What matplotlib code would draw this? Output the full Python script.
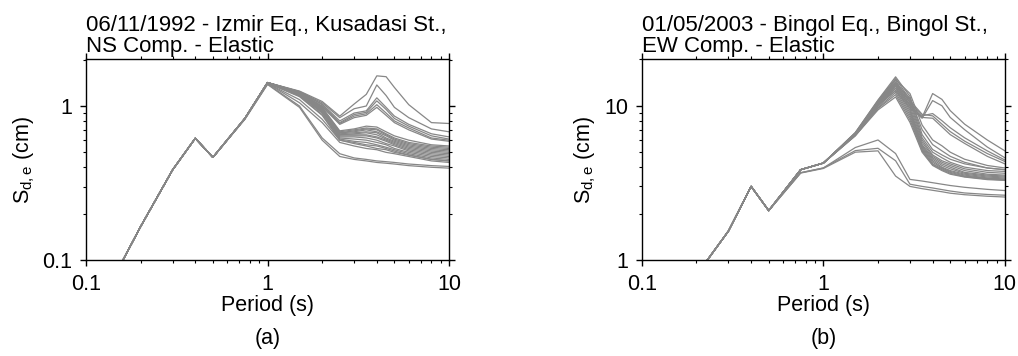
import numpy as np
import matplotlib
matplotlib.use("Agg")
import matplotlib.pyplot as plt
from matplotlib.ticker import LogLocator, NullFormatter, FixedLocator, FixedFormatter

plt.rcParams["font.family"] = ["Liberation Sans", "DejaVu Sans"]
plt.rcParams["mathtext.fontset"] = "custom"
plt.rcParams["mathtext.rm"] = "Liberation Sans"
plt.rcParams["mathtext.it"] = "Liberation Sans"

# ── Periods (s) ──
periods_common = [0.1, 0.2, 0.3, 0.4, 0.5]
periods_tail = [0.75, 1.0, 1.5, 2.0, 2.5, 3.0, 3.5, 4.0, 4.5, 5.0, 6.0, 8.0, 10.0]

# ── (a) Izmir, Kusadasi NS: shared short-period part, then one tail per record ──
izmir_common = [0.035, 0.165, 0.385, 0.617, 0.464]
izmir_tails = [
    [0.83, 1.42, 1.25, 1.07, 0.86, 1.03, 1.19, 1.57, 1.55, 1.32, 1.02, 0.78, 0.77],
    [0.83, 1.42, 1.24, 1.05, 0.84, 0.96, 1.00, 1.37, 1.17, 0.98, 0.84, 0.71, 0.68],
    [0.83, 1.42, 1.24, 1.03, 0.80, 0.90, 0.93, 1.13, 0.98, 0.86, 0.76, 0.66, 0.63],
    [0.83, 1.42, 1.23, 1.02, 0.78, 0.88, 0.91, 1.08, 0.95, 0.83, 0.74, 0.64, 0.61],
    [0.83, 1.42, 1.22, 1.00, 0.77, 0.86, 0.89, 1.02, 0.90, 0.80, 0.72, 0.62, 0.60],
    [0.83, 1.42, 1.22, 0.99, 0.76, 0.84, 0.87, 0.98, 0.87, 0.78, 0.70, 0.61, 0.59],
    [0.83, 1.42, 1.23, 0.98, 0.69, 0.71, 0.74, 0.73, 0.68, 0.64, 0.60, 0.56, 0.55],
    [0.83, 1.42, 1.22, 0.97, 0.68, 0.70, 0.72, 0.71, 0.66, 0.62, 0.58, 0.55, 0.54],
    [0.83, 1.42, 1.21, 0.96, 0.67, 0.69, 0.71, 0.70, 0.65, 0.61, 0.57, 0.54, 0.53],
    [0.83, 1.42, 1.21, 0.95, 0.67, 0.68, 0.70, 0.68, 0.64, 0.60, 0.56, 0.53, 0.52],
    [0.83, 1.42, 1.20, 0.94, 0.66, 0.67, 0.68, 0.67, 0.62, 0.59, 0.55, 0.52, 0.51],
    [0.83, 1.42, 1.20, 0.93, 0.65, 0.66, 0.67, 0.65, 0.61, 0.58, 0.54, 0.51, 0.50],
    [0.83, 1.42, 1.19, 0.92, 0.65, 0.65, 0.65, 0.63, 0.60, 0.57, 0.53, 0.50, 0.49],
    [0.83, 1.42, 1.19, 0.92, 0.64, 0.64, 0.64, 0.62, 0.59, 0.56, 0.52, 0.49, 0.48],
    [0.83, 1.41, 1.18, 0.91, 0.63, 0.63, 0.62, 0.60, 0.57, 0.55, 0.51, 0.48, 0.47],
    [0.83, 1.41, 1.17, 0.90, 0.62, 0.61, 0.60, 0.58, 0.56, 0.53, 0.50, 0.47, 0.46],
    [0.83, 1.41, 1.16, 0.88, 0.61, 0.59, 0.58, 0.56, 0.54, 0.52, 0.49, 0.46, 0.45],
    [0.83, 1.41, 1.15, 0.87, 0.60, 0.58, 0.56, 0.55, 0.53, 0.51, 0.48, 0.45, 0.44],
    [0.83, 1.40, 1.10, 0.82, 0.60, 0.57, 0.55, 0.53, 0.52, 0.50, 0.48, 0.45, 0.44],
    [0.83, 1.40, 1.05, 0.78, 0.58, 0.55, 0.53, 0.52, 0.50, 0.49, 0.47, 0.44, 0.43],
    [0.82, 1.39, 1.00, 0.62, 0.49, 0.46, 0.45, 0.44, 0.435, 0.43, 0.42, 0.41, 0.405],
    [0.82, 1.38, 0.98, 0.60, 0.47, 0.45, 0.44, 0.43, 0.425, 0.42, 0.41, 0.40, 0.395],
]

# ── (b) Bingol, Bingol EW ──
bingol_common = [0.30, 0.80, 1.54, 3.0, 2.09]
bingol_tails = [
    [3.85, 4.25, 6.6, 10.3, 13.0, 10.0, 8.4, 12.0, 11.0, 9.3, 7.6, 6.0, 5.1],
    [3.85, 4.25, 6.6, 10.2, 12.5, 9.7, 8.3, 10.8, 10.0, 8.4, 7.0, 5.4, 4.6],
    [3.85, 4.25, 6.6, 10.4, 13.8, 10.5, 8.6, 8.9, 8.0, 7.2, 6.2, 5.1, 4.45],
    [3.85, 4.25, 6.6, 10.5, 14.2, 10.8, 8.8, 8.6, 7.6, 6.8, 5.9, 4.9, 4.35],
    [3.85, 4.25, 6.6, 10.3, 13.5, 10.2, 8.4, 8.3, 7.3, 6.5, 5.7, 4.7, 4.2],
    [3.85, 4.25, 6.7, 10.9, 15.4, 11.5, 6.5, 5.2, 4.8, 4.5, 4.2, 3.95, 3.85],
    [3.85, 4.25, 6.7, 10.8, 15.0, 11.0, 6.2, 5.0, 4.6, 4.3, 4.0, 3.8, 3.75],
    [3.85, 4.25, 6.6, 10.6, 14.6, 10.5, 6.0, 4.8, 4.4, 4.2, 3.9, 3.7, 3.65],
    [3.85, 4.25, 6.6, 10.5, 14.2, 10.0, 5.8, 4.7, 4.3, 4.1, 3.8, 3.6, 3.55],
    [3.85, 4.25, 6.6, 10.3, 13.8, 9.6, 5.6, 4.6, 4.2, 4.0, 3.7, 3.55, 3.5],
    [3.85, 4.25, 6.5, 10.2, 13.4, 9.3, 5.5, 4.5, 4.1, 3.9, 3.65, 3.5, 3.45],
    [3.85, 4.25, 6.5, 10.0, 13.0, 9.0, 5.4, 4.4, 4.0, 3.8, 3.6, 3.45, 3.4],
    [3.85, 4.25, 6.5, 9.9, 12.6, 8.7, 5.3, 4.3, 3.95, 3.75, 3.55, 3.4, 3.35],
    [3.85, 4.25, 6.4, 9.7, 12.2, 8.4, 5.2, 4.2, 3.9, 3.7, 3.5, 3.38, 3.33],
    [3.85, 4.25, 6.4, 9.6, 11.8, 8.1, 5.1, 4.15, 3.85, 3.65, 3.47, 3.35, 3.3],
    [3.85, 4.25, 6.4, 9.4, 11.4, 7.8, 5.0, 4.1, 3.8, 3.6, 3.45, 3.32, 3.28],
    [3.85, 4.25, 6.6, 10.6, 14.8, 12.0, 7.5, 6.0, 5.5, 5.0, 4.5, 4.1, 3.95],
    [3.85, 4.25, 6.5, 10.4, 14.0, 11.2, 7.0, 5.6, 5.1, 4.7, 4.3, 3.95, 3.85],
    [3.68, 3.95, 5.36, 6.0, 4.9, 3.33, 3.25, 3.17, 3.1, 3.04, 2.96, 2.87, 2.82],
    [3.68, 3.95, 5.12, 5.3, 4.4, 3.1, 3.0, 2.93, 2.86, 2.8, 2.72, 2.66, 2.63],
    [3.66, 3.92, 5.0, 5.1, 3.5, 3.0, 2.9, 2.83, 2.77, 2.71, 2.65, 2.59, 2.56],
]

panels = [
    ("06/11/1992 - Izmir Eq., Kusadasi St.,\nNS Comp. - Elastic", izmir_common, izmir_tails,
     (0.1, 2.02), [0.1, 1], ["0.1", "1"], "(a)", 0.0845),
    ("01/05/2003 - Bingol Eq., Bingol St.,\nEW Comp. - Elastic", bingol_common, bingol_tails,
     (1, 20.1), [1, 10], ["1", "10"], "(b)", 0.6305),
]

FS = 15.5
GRAY = "#878787"

fig = plt.figure(figsize=(10.18, 3.56), dpi=100)
for title, common, tails, ylim, yt, ytl, tag, x0 in panels:
    ax = fig.add_axes([x0, 0.2697, 0.3566, 0.5646])
    T = np.array(periods_common + periods_tail)
    for tail in tails:
        ax.plot(T, common + tail, color=GRAY, lw=0.9)
    ax.set_xscale("log")
    ax.set_yscale("log")
    ax.set_xlim(0.1, 10)
    ax.set_ylim(*ylim)
    ax.xaxis.set_major_locator(FixedLocator([0.1, 1, 10]))
    ax.xaxis.set_major_formatter(FixedFormatter(["0.1", "1", "10"]))
    ax.xaxis.set_minor_locator(LogLocator(base=10, subs=np.arange(2, 10)))
    ax.xaxis.set_minor_formatter(NullFormatter())
    ax.yaxis.set_major_locator(FixedLocator(yt))
    ax.yaxis.set_major_formatter(FixedFormatter(ytl))
    ax.yaxis.set_minor_locator(LogLocator(base=10, subs=np.arange(2, 10)))
    ax.yaxis.set_minor_formatter(NullFormatter())
    ax.tick_params(which="both", direction="out", top=True, right=True, labelsize=FS, pad=6)
    ax.tick_params(which="major", length=4, width=1)
    ax.tick_params(which="minor", length=2.5, width=0.8)
    for s in ax.spines.values():
        s.set_linewidth(1)
    ax.set_xlabel("Period (s)", fontsize=FS, labelpad=0)
    ax.set_ylabel(r"S$_{\mathrm{d,e}}$ (cm)", fontsize=FS, labelpad=4)
    ax.text(0, 1.008, title, transform=ax.transAxes, ha="left", va="bottom",
            fontsize=16, linespacing=1.02)
    ax.text(0.5, -0.39, tag, transform=ax.transAxes, ha="center", va="center", fontsize=FS)

fig.savefig("out.png", dpi=100)
